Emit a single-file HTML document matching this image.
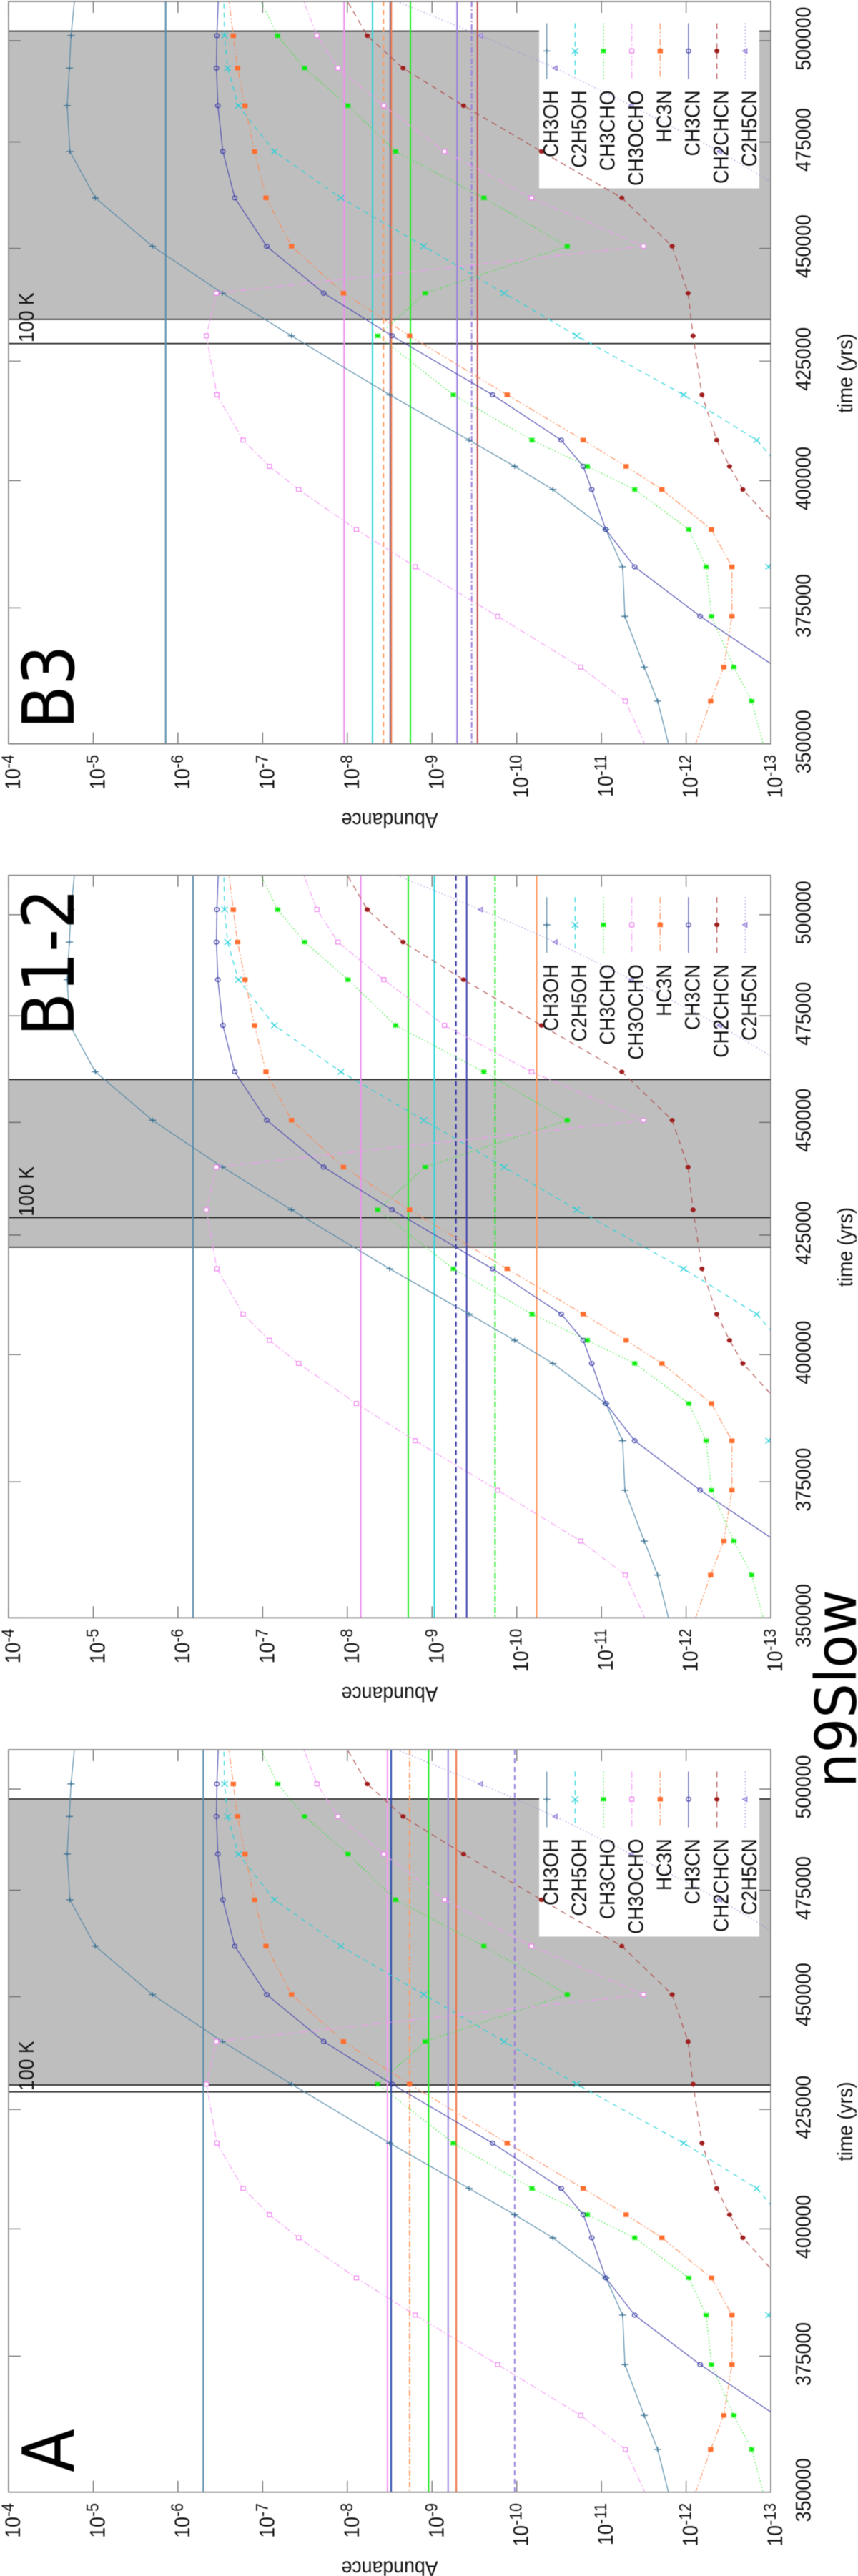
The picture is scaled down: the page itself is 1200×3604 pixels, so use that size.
<!DOCTYPE html>
<html lang="en">
<head>
<meta charset="utf-8">
<title>n9Slow abundance panels</title>
<style>
html,body{margin:0;padding:0;background:#fff;}
svg{display:block;filter:blur(0.5px);}
text{font-family:"Liberation Sans",sans-serif;fill:#111;}
.big{font-family:"DejaVu Sans",sans-serif;fill:#000;}
</style>
</head>
<body>
<svg id="figure" xmlns="http://www.w3.org/2000/svg" width="1200" height="3604" viewBox="0 0 1200 3604">
  <text class="big" transform="translate(1197,2501) rotate(-90) scale(.97,1)" font-size="79">n9Slow</text>
</svg>
<script>
// ---- data: time samples (yrs) and log10(abundance) per species ----
const times = [512000,501300,493100,483800,472700,461700,450500,439900,430500,417800,408300,402900,398200,390200,382900,373400,363900,357670,345000];
const ch3oh    = [-4.785,-4.737,-4.718,-4.692,-4.724,-5.024,-5.699,-6.524,-7.341,-8.500,-9.437,-9.975,-10.427,-11.052,-11.250,-11.277,-11.505,-11.663,-11.877];
const c2h5oh   = [-6.541,-6.550,-6.586,-6.713,-7.139,-7.923,-8.903,-9.851,-10.709,-11.970,-12.833,-13.101,-13.354,-13.270,-12.974,-13.143,-13.439,-13.692,-13.861];
const ch3cho   = [-6.938,-7.177,-7.495,-8.008,-8.570,-9.612,-10.596,-8.919,-8.359,-9.251,-10.180,-10.832,-11.393,-12.031,-12.237,-12.299,-12.563,-12.774,-13.000];
const ch3ocho  = [-7.453,-7.641,-7.889,-8.430,-9.147,-10.174,-11.497,-6.454,-6.336,-6.459,-6.769,-7.081,-7.425,-8.106,-8.801,-9.775,-10.754,-11.283,-11.663];
const hc3n     = [-6.592,-6.653,-6.704,-6.792,-6.904,-7.039,-7.341,-7.954,-8.734,-9.887,-10.785,-11.292,-11.714,-12.299,-12.541,-12.541,-12.445,-12.290,-11.992];
const ch3cn    = [-6.479,-6.459,-6.454,-6.471,-6.530,-6.670,-7.048,-7.721,-8.528,-9.715,-10.526,-10.785,-10.886,-11.052,-11.393,-12.166,-13.059,-13.607,-14.874];
const ch2chcn  = [-7.951,-8.235,-8.658,-9.372,-10.292,-11.241,-11.835,-12.023,-12.082,-12.187,-12.361,-12.513,-12.670,-13.101,-13.523,-13.945,-14.367,-14.705,-15.043];
const c2h5cn   = [-8.373,-9.575,-10.456,-11.356,-12.398,-13.312,-14.030,-14.500,-14.800,-15.000,-15.200,-15.300,-15.400,-15.500,-15.600,-15.700,-15.800,-15.900,-16.000];

const speciesNames = ["CH3OH","C2H5OH","CH3CHO","CH3OCHO","HC3N","CH3CN","CH2CHCN","C2H5CN"];
const speciesValues = [ch3oh,c2h5oh,ch3cho,ch3ocho,hc3n,ch3cn,ch2chcn,c2h5cn];

// tick labels
const abundanceExponents = [-4,-5,-6,-7,-8,-9,-10,-11,-12,-13];
const timeTickLabels = [350000,375000,400000,425000,450000,475000,500000];

// reference-level lines per panel: log10(abundance)
const levelsB3  = [-5.855,-7.962,-8.297,-8.426,-8.506,-8.519,-8.745,-9.296,-9.468,-9.536];
const levelsB12 = [-6.178,-8.158,-8.719,-9.027,-9.282,-9.409,-9.744,-10.235];
const levelsA   = [-6.299,-8.473,-8.517,-8.736,-8.959,-9.190,-9.286,-9.976];

// time ranges of the warm band [start, end] and 100 K time, yrs
const bandB3  = [434100,502460];
const bandB12 = [422400,459900];
const bandA   = [430300,497500];
const time100K = 428800;

// ---- styles ----
const speciesStyle = {
  CH3OH:  {color:"#4f86a6",dash:"",marker:"plus"},
  C2H5OH: {color:"#22d3da",dash:"7 6",marker:"cross"},
  CH3CHO: {color:"#22ee22",dash:"1.5 3",marker:"star"},
  CH3OCHO:{color:"#f79af7",dash:"9 3 2 3",marker:"squareOpen"},
  HC3N:   {color:"#ff8a55",dash:"9 3 2 3 2 3",marker:"squareFilled"},
  CH3CN:  {color:"#4a4ab0",dash:"",marker:"circleOpen"},
  CH2CHCN:{color:"#b04848",dash:"8 6",marker:"circleFilled"},
  C2H5CN: {color:"#a08ae0",dash:"1.5 3",marker:"triangleOpen"}
};
const markerColor = {CH3OH:"#2f6a8e",C2H5OH:"#1fd0d8",CH3CHO:"#00ee00",CH3OCHO:"#f080f0",HC3N:"#ff6f30",CH3CN:"#3c3ca8",CH2CHCN:"#a01f1f",C2H5CN:"#9078d8"};

const stylesB3 = [["#5a8cab",""],["#ee90ee",""],["#2dd3da",""],["#ff9a60","7 5"],["#6a6ab0",""],["#f07a48",""],["#22ee22",""],["#9a80dc",""],["#9a80dc","8 3 2 3"],["#c05050",""]];
const stylesB12 = [["#5a8cab",""],["#ee90ee",""],["#22ee22",""],["#2dd3da",""],["#3030a8","7 5"],["#4040b0",""],["#22ee22","8 3 2 3"],["#ff9a60",""]];
const stylesA = [["#5a8cab",""],["#f79af7",""],["#2848a8",""],["#ff9a60","8 3 2 3"],["#22ee22",""],["#9a80dc",""],["#ee7040",""],["#9a80dc","7 5"]];

// ---- axes ----
const AX = {left:12, right:1078, top:2, bottom:1040.7};
const DECADE_PX = 118.45;
const TIME_PX = 6350;
function xOf(logAbund){ return AX.left + (-4 - logAbund) * DECADE_PX; }
function yOf(t){ return AX.bottom - TIME_PX * Math.log10(t / 350000); }

const NS = "http://www.w3.org/2000/svg";
const root = document.getElementById("figure");
function mk(parent, tag, attrs){
  const el = document.createElementNS(NS, tag);
  for (const k in attrs) el.setAttribute(k, attrs[k]);
  parent.appendChild(el);
  return el;
}
function rotText(parent, x, y, str, size, anchor){
  const el = mk(parent, "text", {transform:"translate("+x+","+y+") rotate(-90) scale(.89,1)", "font-size":size, "text-anchor":anchor});
  el.textContent = str;
  return el;
}

function drawMarker(parent, kind, x, y, color, name){
  const g = mk(parent, "g", {stroke:color, "stroke-width":1.2, fill:"none"});
  
  
  if (kind === "plus"){
    mk(g,"path",{d:"M"+(x-5)+" "+y+"H"+(x+5)+"M"+x+" "+(y-3.5)+"V"+(y+3.5)});
  } else if (kind === "cross"){
    mk(g,"path",{d:"M"+(x-4.5)+" "+(y-4)+"L"+(x+4.5)+" "+(y+4)+"M"+(x-4.5)+" "+(y+4)+"L"+(x+4.5)+" "+(y-4)});
  } else if (kind === "star"){
    g.setAttribute("stroke-width","1.5");
    mk(g,"path",{d:"M"+(x-3.5)+" "+(y-3)+"L"+(x+3.5)+" "+(y+3)+"M"+(x-3.5)+" "+(y+3)+"L"+(x+3.5)+" "+(y-3)+"M"+(x-4)+" "+y+"H"+(x+4)+"M"+x+" "+(y-3.5)+"V"+(y+3.5)});
  } else if (kind === "squareOpen"){
    mk(g,"rect",{x:x-3,y:y-2.8,width:6,height:5.6,fill:"#fff"});
  } else if (kind === "squareFilled"){
    mk(g,"rect",{x:x-3.7,y:y-3.2,width:7.4,height:6.4,fill:color,stroke:"none"});
  } else if (kind === "circleOpen"){
    mk(g,"ellipse",{cx:x,cy:y,rx:3.3,ry:2.9});
  } else if (kind === "circleFilled"){
    mk(g,"ellipse",{cx:x,cy:y,rx:3.6,ry:3.2,fill:color,stroke:"none"});
  } else if (kind === "triangleOpen"){
    mk(g,"polygon",{points:(x-3.5)+","+y+" "+(x+2.5)+","+(y-3.2)+" "+(x+2.5)+","+(y+3.2),fill:"#cfc4f0"});
  }
}

function drawPanel(cfg){
  const panel = mk(root, "g", {transform:"translate(0,"+cfg.offset+")"});
  
  

  const clipId = "clip-" + cfg.slug;
  const defs = mk(panel, "defs", {});
  const cp = mk(defs, "clipPath", {id:clipId});
  mk(cp, "rect", {x:AX.left, y:AX.top, width:AX.right-AX.left, height:AX.bottom-AX.top});

  // warm band
  const bandTop = yOf(cfg.band[1]), bandBottom = yOf(cfg.band[0]);
  const band = mk(panel, "rect", {x:AX.left, y:bandTop, width:AX.right-AX.left, height:bandBottom-bandTop, fill:"#bebebe"});
  
  
  [cfg.band[1], cfg.band[0], time100K].forEach(function(t){
    const edge = mk(panel, "line", {x1:AX.left, x2:AX.right, y1:yOf(t), y2:yOf(t), stroke:"#1a1a1a", "stroke-width":1.6});
    
    
  });

  // legend background
  const box = mk(panel, "rect", {x:754, y:AX.top+0.5, width:308, height:261, fill:"#fff"});
  
  

  // ticks
  abundanceExponents.forEach(function(e){
    const x = xOf(e);
    const t1 = mk(panel, "path", {d:"M"+x+" "+AX.top+"v16M"+x+" "+AX.bottom+"v-16", stroke:"#555", "stroke-width":1.1, fill:"none"});
    
    
    const lab = mk(panel, "text", {transform:"translate("+(x+16)+",1056) rotate(-90) scale(.89,1)", "font-size":30, "text-anchor":"end"});
    
    
    const base = mk(lab, "tspan", {});
    base.textContent = "10";
    const sup = mk(lab, "tspan", {dy:-9, "font-size":24});
    sup.textContent = String(e);
  });
  timeTickLabels.forEach(function(t){
    const y = yOf(t);
    const t2 = mk(panel, "path", {d:"M"+AX.left+" "+y+"h17M"+AX.right+" "+y+"h-16", stroke:"#555", "stroke-width":1.1, fill:"none"});
    
    
    const lab = rotText(panel, 1133.3, y-3, String(t), 30, "middle");
    
    
  });

  // reference levels
  cfg.levels.forEach(function(v, i){
    const st = cfg.styles[i];
    const l = mk(panel, "line", {x1:xOf(v), x2:xOf(v), y1:AX.top, y2:AX.bottom, stroke:st[0], "stroke-width":2, "stroke-dasharray":st[1]});
    
    
  });

  // series
  const plot = mk(panel, "g", {"clip-path":"url(#"+clipId+")"});
  speciesNames.forEach(function(name, s){
    const vals = speciesValues[s];
    const st = speciesStyle[name];
    const pts = times.map(function(t,i){ return xOf(vals[i]).toFixed(1)+","+yOf(t).toFixed(1); }).join(" ");
    const line = mk(plot, "polyline", {points:pts, fill:"none", stroke:st.color, "stroke-width":1.1, "stroke-dasharray":st.dash});
    
    
    times.forEach(function(t,i){
      drawMarker(plot, st.marker, xOf(vals[i]), yOf(t), markerColor[name], 'point-' + name.toLowerCase());
    });
  });

  // legend entries
  speciesNames.forEach(function(name, s){
    const st = speciesStyle[name];
    const col = 764.7 + s * 39.65;
    const g = mk(panel, "g", {});
    
    
    mk(g, "line", {x1:col, x2:col, y1:32.5, y2:110.5, stroke:st.color, "stroke-width":1.2, "stroke-dasharray":st.dash});
    drawMarker(g, st.marker, col, 71.3, markerColor[name], 'legend-marker');
    const txt = rotText(g, col+15.7, 126.5, name, 30, "end");
    
    
  });

  // frame
  const frame = mk(panel, "rect", {x:AX.left, y:AX.top, width:AX.right-AX.left, height:AX.bottom-AX.top, fill:"none", stroke:"#7a7a7a", "stroke-width":1.6});
  
  

  // annotations
  const k = rotText(panel, 47, 479, "100 K", 30, "start");
  
  
  const xt = rotText(panel, 1192, 522, "time (yrs)", 30, "middle");
  
  
  const yt = mk(panel, "text", {transform:"translate(545,1137.3) rotate(180) scale(.89,1)", "font-size":30, "text-anchor":"middle"});
  yt.textContent = "Abundance";
  
  
  const big = rotText(panel, 103, cfg.labelY, cfg.label, 100, "start");
  big.setAttribute('class', 'big');
  
  
}

drawPanel({slug:"b3", label:"B3", offset:0, labelY:1020, band:bandB3, levels:levelsB3, styles:stylesB3});
drawPanel({slug:"b1-2", label:"B1-2", offset:1222.7, labelY:227, band:bandB12, levels:levelsB12, styles:stylesB12});
drawPanel({slug:"a", label:"A", offset:2446, labelY:1013, band:bandA, levels:levelsA, styles:stylesA});
</script>
</body>
</html>
